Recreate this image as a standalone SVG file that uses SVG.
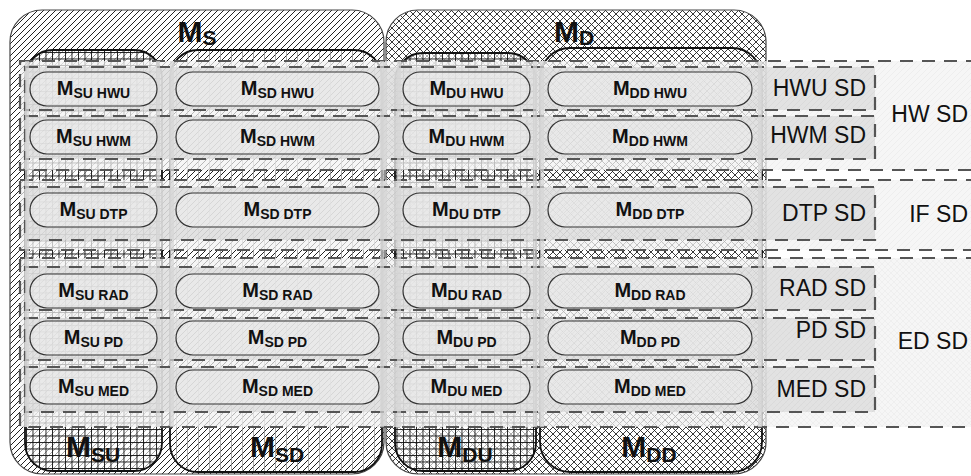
<svg xmlns="http://www.w3.org/2000/svg" width="971" height="476" viewBox="0 0 971 476">
<defs>
<pattern id="diag" width="6" height="6" patternUnits="userSpaceOnUse">
<rect width="6" height="6" fill="#fff"/>
<path d="M-1,1 L1,-1 M0,6 L6,0 M5,7 L7,5" stroke="#222" stroke-width="1"/>
</pattern>
<pattern id="cross" width="7" height="7" patternUnits="userSpaceOnUse">
<rect width="7" height="7" fill="#fff"/>
<path d="M0,0 L7,7 M7,0 L0,7" stroke="#222" stroke-width="0.9"/>
</pattern>
<pattern id="grid" width="6.5" height="6.5" patternUnits="userSpaceOnUse">
<path d="M0,0.5 H6.5 M0.5,0 V6.5" stroke="#111" stroke-width="0.9"/>
</pattern>
<pattern id="vert" width="11" height="11" patternUnits="userSpaceOnUse">
<path d="M0.5,0 V11" stroke="#888" stroke-width="0.7"/>
</pattern>
<pattern id="bandHatch" width="6" height="6" patternUnits="userSpaceOnUse">
<rect width="6" height="6" fill="#f3f3f3"/>
<path d="M0,6 L6,0 M-1,1 L1,-1 M5,7 L7,5" stroke="#e0e0e0" stroke-width="0.6"/>
</pattern>
<pattern id="bandCross" width="6" height="6" patternUnits="userSpaceOnUse">
<rect width="6" height="6" fill="#f3f3f3"/>
<path d="M0,0 L6,6 M6,0 L0,6" stroke="#e2e2e2" stroke-width="0.6"/>
</pattern>
<pattern id="subHatch" width="6" height="6" patternUnits="userSpaceOnUse">
<rect width="6" height="6" fill="#d9d9d9"/>
<path d="M0,6 L6,0 M-1,1 L1,-1 M5,7 L7,5" stroke="#cbcbcb" stroke-width="0.6"/>
</pattern>
</defs>
<style>
.outer{stroke:#444;stroke-width:1.2}
.col{stroke:#111;stroke-width:1.8}
.band{opacity:0.75}
.sub{opacity:0.7}
.dash{fill:none;stroke:#555;stroke-width:2.2;stroke-dasharray:13 9}
.pill{fill:#fff;fill-opacity:0.25;stroke:#333;stroke-width:1.2}
.edge{stroke:#d6d6d6;stroke-width:4;opacity:0.7}
.pl{font-family:"Liberation Sans",Arial,sans-serif;font-weight:bold;font-size:20px;fill:#111;text-anchor:middle}
.ps{font-size:14px}
.big{font-family:"Liberation Sans",Arial,sans-serif;font-weight:bold;font-size:30px;fill:#111;text-anchor:middle}
.bs{font-size:21px}
.lab{font-family:"Liberation Sans",Arial,sans-serif;font-size:23px;fill:#111;text-anchor:end}
</style>

<g id="M_S">
<rect class="outer" x="10" y="10" width="374" height="464" rx="32" fill="url(#diag)"/>
<text class="big" x="197" y="42">M<tspan class="bs" dy="3">S</tspan></text>
</g>
<g id="M_D">
<rect class="outer" x="386" y="10" width="380" height="464" rx="32" fill="url(#cross)"/>
<text class="big" x="574" y="42">M<tspan class="bs" dy="3">D</tspan></text>
</g>

<g id="M_SU">
<rect x="25" y="50" width="137" height="421" rx="28" fill="#fff" fill-opacity="0.6"/>
<rect class="col" x="25" y="50" width="137" height="421" rx="28" fill="url(#grid)"/>
<text class="big" x="93" y="457">M<tspan class="bs" dy="5">SU</tspan></text>
</g>
<g id="M_SD">
<rect class="col" x="170" y="50" width="212" height="422" rx="28" fill="url(#vert)"/>
<text class="big" x="277" y="457">M<tspan class="bs" dy="5">SD</tspan></text>
</g>
<g id="M_DU">
<rect x="395" y="53" width="141" height="418" rx="28" fill="#fff" fill-opacity="0.6"/>
<rect class="col" x="395" y="53" width="141" height="418" rx="28" fill="url(#grid)"/>
<text class="big" x="465" y="457">M<tspan class="bs" dy="5">DU</tspan></text>
</g>
<g id="M_DD">
<rect class="col" x="540" y="48" width="222" height="424" rx="30" fill="none"/>
<text class="big" x="649" y="457">M<tspan class="bs" dy="5">DD</tspan></text>
</g>

<g id="HW_SD">
<rect class="band" x="20" y="61" width="960" height="109" fill="url(#bandHatch)"/>
<rect class="dash" x="20" y="61" width="960" height="109"/>
<text class="lab" x="968" y="122">HW SD</text>
</g>
<g id="IF_SD">
<rect class="band" x="20" y="180" width="960" height="70" fill="url(#bandHatch)"/>
<rect class="dash" x="20" y="180" width="960" height="70"/>
<text class="lab" x="968" y="222">IF SD</text>
</g>
<g id="ED_SD">
<rect class="band" x="20" y="258" width="960" height="169" fill="url(#bandCross)"/>
<rect class="dash" x="20" y="258" width="960" height="169"/>
<text class="lab" x="968" y="349">ED SD</text>
</g>

<g id="HWU_SD">
<rect class="sub" x="25" y="67" width="850" height="43" fill="url(#subHatch)"/>
<rect class="dash" x="25" y="67" width="850" height="43"/>
<text class="lab" x="866" y="96">HWU SD</text>
</g>
<g id="HWM_SD">
<rect class="sub" x="25" y="116" width="850" height="43" fill="url(#subHatch)"/>
<rect class="dash" x="25" y="116" width="850" height="43"/>
<text class="lab" x="866" y="143">HWM SD</text>
</g>
<g id="DTP_SD">
<rect class="sub" x="25" y="187" width="850" height="53" fill="url(#subHatch)"/>
<rect class="dash" x="25" y="187" width="850" height="53"/>
<text class="lab" x="866" y="221">DTP SD</text>
</g>
<g id="RAD_SD">
<rect class="sub" x="25" y="267" width="850" height="43" fill="url(#subHatch)"/>
<rect class="dash" x="25" y="267" width="850" height="43"/>
<text class="lab" x="866" y="296">RAD SD</text>
</g>
<g id="PD_SD">
<rect class="sub" x="25" y="318" width="850" height="42" fill="url(#subHatch)"/>
<rect class="dash" x="25" y="318" width="850" height="42"/>
<text class="lab" x="866" y="338">PD SD</text>
</g>
<g id="MED_SD">
<rect class="sub" x="25" y="367" width="850" height="45" fill="url(#subHatch)"/>
<rect class="dash" x="25" y="367" width="850" height="45"/>
<text class="lab" x="866" y="397">MED SD</text>
</g>

<g id="column-edges">
<path class="edge" d="M27,61 V427 M158,61 V427 M172,61 V427 M382,61 V427 M399,61 V427 M535,61 V427 M542,61 V427 M760,61 V427"/>
</g>

<g id="pills-HWU">
<g id="P_SU_HWU"><rect class="pill" x="30" y="72" width="127" height="34" rx="17"/><text class="pl" x="93.5" y="95">M<tspan class="ps" dy="3">SU HWU</tspan></text></g>
<g id="P_SD_HWU"><rect class="pill" x="176" y="72" width="203" height="34" rx="17"/><text class="pl" x="277.5" y="95">M<tspan class="ps" dy="3">SD HWU</tspan></text></g>
<g id="P_DU_HWU"><rect class="pill" x="403" y="72" width="127" height="34" rx="17"/><text class="pl" x="466.5" y="95">M<tspan class="ps" dy="3">DU HWU</tspan></text></g>
<g id="P_DD_HWU"><rect class="pill" x="548" y="72" width="204" height="34" rx="17"/><text class="pl" x="650" y="95">M<tspan class="ps" dy="3">DD HWU</tspan></text></g>
</g>
<g id="pills-HWM">
<g id="P_SU_HWM"><rect class="pill" x="30" y="120" width="127" height="34" rx="17"/><text class="pl" x="93.5" y="143">M<tspan class="ps" dy="3">SU HWM</tspan></text></g>
<g id="P_SD_HWM"><rect class="pill" x="176" y="120" width="203" height="34" rx="17"/><text class="pl" x="277.5" y="143">M<tspan class="ps" dy="3">SD HWM</tspan></text></g>
<g id="P_DU_HWM"><rect class="pill" x="403" y="120" width="127" height="34" rx="17"/><text class="pl" x="466.5" y="143">M<tspan class="ps" dy="3">DU HWM</tspan></text></g>
<g id="P_DD_HWM"><rect class="pill" x="548" y="120" width="204" height="34" rx="17"/><text class="pl" x="650" y="143">M<tspan class="ps" dy="3">DD HWM</tspan></text></g>
</g>
<g id="pills-DTP">
<g id="P_SU_DTP"><rect class="pill" x="30" y="193" width="127" height="34" rx="17"/><text class="pl" x="93.5" y="216">M<tspan class="ps" dy="3">SU DTP</tspan></text></g>
<g id="P_SD_DTP"><rect class="pill" x="176" y="193" width="203" height="34" rx="17"/><text class="pl" x="277.5" y="216">M<tspan class="ps" dy="3">SD DTP</tspan></text></g>
<g id="P_DU_DTP"><rect class="pill" x="403" y="193" width="127" height="34" rx="17"/><text class="pl" x="466.5" y="216">M<tspan class="ps" dy="3">DU DTP</tspan></text></g>
<g id="P_DD_DTP"><rect class="pill" x="548" y="193" width="204" height="34" rx="17"/><text class="pl" x="650" y="216">M<tspan class="ps" dy="3">DD DTP</tspan></text></g>
</g>
<g id="pills-RAD">
<g id="P_SU_RAD"><rect class="pill" x="30" y="274" width="127" height="34" rx="17"/><text class="pl" x="93.5" y="297">M<tspan class="ps" dy="3">SU RAD</tspan></text></g>
<g id="P_SD_RAD"><rect class="pill" x="176" y="274" width="203" height="34" rx="17"/><text class="pl" x="277.5" y="297">M<tspan class="ps" dy="3">SD RAD</tspan></text></g>
<g id="P_DU_RAD"><rect class="pill" x="403" y="274" width="127" height="34" rx="17"/><text class="pl" x="466.5" y="297">M<tspan class="ps" dy="3">DU RAD</tspan></text></g>
<g id="P_DD_RAD"><rect class="pill" x="548" y="274" width="204" height="34" rx="17"/><text class="pl" x="650" y="297">M<tspan class="ps" dy="3">DD RAD</tspan></text></g>
</g>
<g id="pills-PD">
<g id="P_SU_PD"><rect class="pill" x="30" y="321" width="127" height="34" rx="17"/><text class="pl" x="93.5" y="344">M<tspan class="ps" dy="3">SU PD</tspan></text></g>
<g id="P_SD_PD"><rect class="pill" x="176" y="321" width="203" height="34" rx="17"/><text class="pl" x="277.5" y="344">M<tspan class="ps" dy="3">SD PD</tspan></text></g>
<g id="P_DU_PD"><rect class="pill" x="403" y="321" width="127" height="34" rx="17"/><text class="pl" x="466.5" y="344">M<tspan class="ps" dy="3">DU PD</tspan></text></g>
<g id="P_DD_PD"><rect class="pill" x="548" y="321" width="204" height="34" rx="17"/><text class="pl" x="650" y="344">M<tspan class="ps" dy="3">DD PD</tspan></text></g>
</g>
<g id="pills-MED">
<g id="P_SU_MED"><rect class="pill" x="30" y="370" width="127" height="34" rx="17"/><text class="pl" x="93.5" y="393">M<tspan class="ps" dy="3">SU MED</tspan></text></g>
<g id="P_SD_MED"><rect class="pill" x="176" y="370" width="203" height="34" rx="17"/><text class="pl" x="277.5" y="393">M<tspan class="ps" dy="3">SD MED</tspan></text></g>
<g id="P_DU_MED"><rect class="pill" x="403" y="370" width="127" height="34" rx="17"/><text class="pl" x="466.5" y="393">M<tspan class="ps" dy="3">DU MED</tspan></text></g>
<g id="P_DD_MED"><rect class="pill" x="548" y="370" width="204" height="34" rx="17"/><text class="pl" x="650" y="393">M<tspan class="ps" dy="3">DD MED</tspan></text></g>
</g>
</svg>
